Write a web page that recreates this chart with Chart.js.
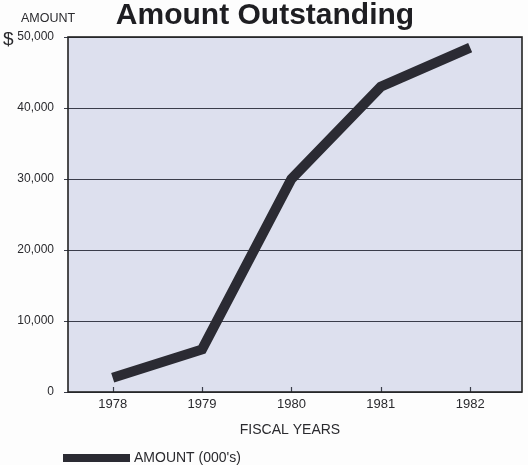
<!DOCTYPE html>
<html>
<head>
<meta charset="utf-8">
<script src="https://cdn.jsdelivr.net/npm/chart.js@4"></script>
<style>
  html, body { margin: 0; padding: 0; background: #fdfdfd; }
  #wrap { position: relative; width: 528px; height: 465px; }
</style>
</head>
<body>
<div id="wrap"><canvas id="c" width="528" height="465"></canvas></div>
<script>
  var YEARS = [1978, 1979, 1980, 1981, 1982];
  var AMOUNTS = [2000, 6000, 30000, 43000, 48500];
  var Y_TICKS = [0, 10000, 20000, 30000, 40000, 50000];
  var TITLE = "Amount Outstanding";
  var Y_LABEL = "AMOUNT";
  var X_LABEL = "FISCAL YEARS";
  var LEGEND_LABEL = "AMOUNT (000's)";

  var INK = "#2b2b33";
  var TEXT = "#2a2a2e";
  var FONT = "'Liberation Sans', Arial, sans-serif";

  var decor = {
    id: "decor",
    beforeDatasetsDraw: function (chart) {
      var a = chart.chartArea, ctx = chart.ctx;
      ctx.save();
      ctx.fillStyle = "#dde0ee";
      ctx.fillRect(a.left, a.top, a.right - a.left, a.bottom - a.top);
      // horizontal grid lines, with short ticks poking out on the left
      var y = chart.scales.y;
      ctx.strokeStyle = "#3a3d4a";
      ctx.lineWidth = 1.2;
      Y_TICKS.forEach(function (v) {
        var py = Math.round(y.getPixelForValue(v)) + 0.5;
        ctx.beginPath(); ctx.moveTo(a.left - 4, py); ctx.lineTo(a.right, py); ctx.stroke();
      });
      // small inward ticks on the year axis
      var x = chart.scales.x;
      YEARS.forEach(function (v) {
        var px = Math.round(x.getPixelForValue(v)) + 0.5;
        ctx.beginPath(); ctx.moveTo(px, a.bottom); ctx.lineTo(px, a.bottom - 5); ctx.stroke();
      });
      ctx.restore();
    },
    afterDraw: function (chart) {
      var a = chart.chartArea, ctx = chart.ctx;
      ctx.save();
      ctx.strokeStyle = "#222";
      ctx.lineWidth = 1.6;
      ctx.strokeRect(a.left, a.top, a.right - a.left, a.bottom - a.top);

      ctx.fillStyle = "#1e1e22";
      ctx.textBaseline = "middle";
      ctx.textAlign = "center";
      ctx.font = "bold 30px " + FONT;
      ctx.fillText(TITLE, 265, 16);

      ctx.fillStyle = TEXT;
      ctx.font = "12.5px " + FONT;
      ctx.fillText(Y_LABEL, 48, 19);
      ctx.font = "19px " + FONT;
      ctx.textAlign = "left";
      ctx.fillText("$", 3, 40);

      ctx.textAlign = "center";
      ctx.font = "14px " + FONT;
      ctx.fillText(X_LABEL, 290, 430);

      ctx.fillStyle = INK;
      ctx.fillRect(63, 454, 67, 8);
      ctx.fillStyle = TEXT;
      ctx.textAlign = "left";
      ctx.font = "14px " + FONT;
      ctx.fillText(LEGEND_LABEL, 134, 458);
      ctx.restore();
    }
  };

  new Chart(document.getElementById("c"), {
    type: "line",
    data: {
      datasets: [{
        data: YEARS.map(function (yr, i) { return { x: yr, y: AMOUNTS[i] }; }),
        borderColor: INK,
        borderWidth: 10,
        borderCapStyle: "butt",
        borderJoinStyle: "miter",
        pointRadius: 0,
        tension: 0
      }]
    },
    options: {
      responsive: false,
      animation: false,
      layout: { padding: { top: 37, right: 6, left: 0, bottom: 0 } },
      plugins: { legend: { display: false }, tooltip: { enabled: false } },
      scales: {
        x: {
          type: "linear",
          min: 1977.5, max: 1982.58,
          afterBuildTicks: function (s) { s.ticks = YEARS.map(function (v) { return { value: v }; }); },
          afterFit: function (s) { s.height = 73; },
          grid: { display: false },
          border: { display: false },
          ticks: {
            color: TEXT, padding: -3,
            font: { family: FONT, size: 13 },
            callback: function (v) { return String(v); }
          }
        },
        y: {
          min: 0, max: 50000,
          afterBuildTicks: function (s) { s.ticks = Y_TICKS.map(function (v) { return { value: v }; }); },
          afterFit: function (s) { s.width = 68; },
          grid: { display: false },
          border: { display: false },
          ticks: {
            color: TEXT, padding: 6,
            font: { family: FONT, size: 12 },
            callback: function (v) { return v.toLocaleString("en-US"); }
          }
        }
      }
    },
    plugins: [decor]
  });
</script>
</body>
</html>
